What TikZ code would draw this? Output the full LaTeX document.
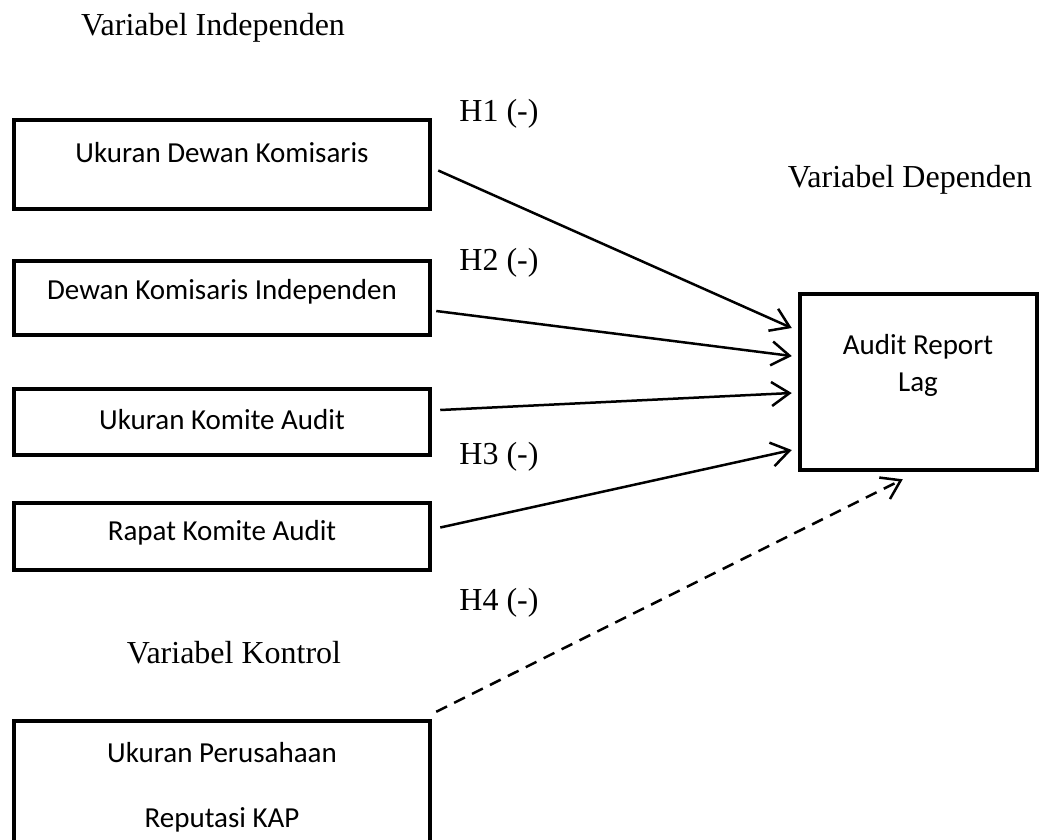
\documentclass[tikz,border=0pt]{standalone}
\usepackage{fontspec}
\setmainfont{Liberation Serif}
\newfontfamily\boxfont{Carlito}
\usetikzlibrary{arrows.meta,calc}
\begin{document}
\begin{tikzpicture}[x=1pt,y=-1pt,
  boxnode/.style={draw,line width=4.5pt,minimum width=416pt,inner sep=0pt},
  boxtext/.style={font=\boxfont\fontsize{29}{35}\selectfont,inner sep=0pt},
  lbl/.style={font=\fontsize{32}{38}\selectfont,inner sep=0pt},
  conn/.style={line width=2.5pt,-{Straight Barb[length=18pt,width=24pt]}},
  dconn/.style={conn,dash pattern=on 12pt off 8pt}]
\useasboundingbox (0,0) rectangle (1048,839);
\fill[white] (0,0) rectangle (1048,839);
% boxes
\node[boxnode,minimum height=89pt] (b1) at (222,164.5) {};
\node[boxnode,minimum height=74pt] (b2) at (222,298) {};
\node[boxnode,minimum height=66pt] (b3) at (222,422) {};
\node[boxnode,minimum height=67pt] (b4) at (222,536.5) {};
\node[boxnode,minimum height=138pt] (b5) at (222,790) {};
\node[draw,line width=4.5pt,minimum width=237pt,minimum height=176pt,inner sep=0pt] (r) at (918.5,382) {};
% box texts
\node[boxtext] (t1) at (222,153) {Ukuran Dewan Komisaris};
\node[boxtext] (t2) at (222,292) {Dewan Komisaris Independen};
\node[boxtext] (t3) at (222,420) {Ukuran Komite Audit};
\node[boxtext] (t4) at (222,533) {Rapat Komite Audit};
\node[boxtext] (t5a) at (222,753) {Ukuran Perusahaan};
\node[boxtext] (t5b) at (222,820) {Reputasi KAP};
\node[boxtext] (ra) at (918,347) {Audit Report};
\node[boxtext] (rb) at (918,385) {Lag};
% labels
\node[lbl] (vi) at (213,28) {Variabel Independen};
\node[lbl] (vd) at (910,180) {Variabel Dependen};
\node[lbl] (vk) at (234,653) {Variabel Kontrol};
\node[lbl] (h1) at (499,114) {H1 (-)};
\node[lbl] (h2) at (499,263) {H2 (-)};
\node[lbl] (h3) at (499,457) {H3 (-)};
\node[lbl] (h4) at (499,603) {H4 (-)};
% connectors
\draw[conn] ($(b1.east)+(6,6)$) -- ($(r.west)+(-6,-54)$);
\draw[conn] ($(b2.east)+(4,13)$) -- ($(r.west)+(-6,-26)$);
\draw[conn] ($(b3.east)+(8,-12)$) -- ($(r.west)+(-6,11)$);
\draw[conn] ($(b4.east)+(8,-9)$) -- ($(r.west)+(-6,68)$);
\draw[dconn] ($(b5.north east)+(4,-7)$) -- ($(r.south west)+(105,7)$);
\end{tikzpicture}
\end{document}
